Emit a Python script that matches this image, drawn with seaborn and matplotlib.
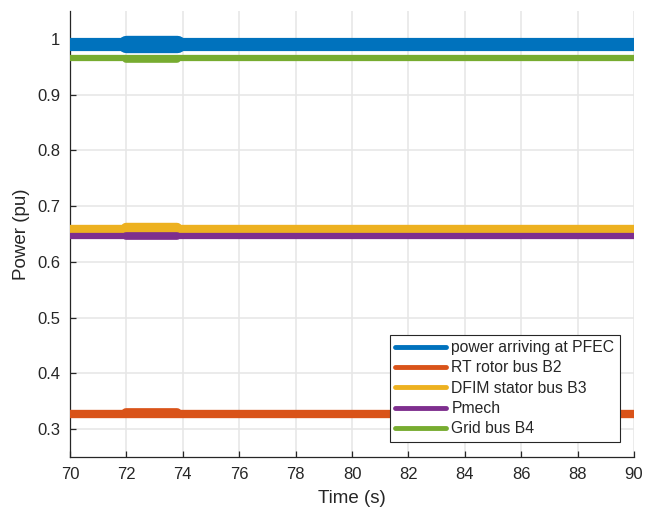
import matplotlib
matplotlib.use("Agg")
import matplotlib.pyplot as plt
import seaborn as sns
import pandas as pd

# Steady power levels of each quantity over the window (pu)
labels = ["power arriving at PFEC", "RT rotor bus B2", "DFIM stator bus B3",
          "Pmech", "Grid bus B4"]
levels = [0.990, 0.328, 0.659, 0.647, 0.965]
# Levels during the short transient around t = 72..74 s
transient_levels = [0.990, 0.329, 0.661, 0.646, 0.964]
time_span = [70.0, 90.0]
transient_span = [72.0, 73.8]

colors = ["#0072BD", "#D95319", "#EDB120", "#7E2F8E", "#77AC30"]
widths = [9.5, 6.0, 6.0, 4.5, 4.5]          # band width of the ripple (pt)
transient_widths = [12.5, 7.0, 7.5, 5.5, 5.5]

sns.set_theme(style="whitegrid")
plt.rcParams["font.family"] = ["Liberation Sans", "DejaVu Sans"]

steady = pd.DataFrame({
    "t": [t for _ in labels for t in time_span],
    "p": [v for v in levels for _ in time_span],
    "signal": [s for s in labels for _ in time_span],
})
trans = pd.DataFrame({
    "t": [t for _ in labels for t in transient_span],
    "p": [v for v in transient_levels for _ in transient_span],
    "signal": [s for s in labels for _ in transient_span],
})

fig = plt.figure(figsize=(6.46, 5.12), dpi=100)
ax = fig.add_axes([0.1084, 0.1074, 0.8730, 0.8711])

for i, name in enumerate(labels):
    sub = steady[steady.signal == name]
    sns.lineplot(data=sub, x="t", y="p", ax=ax, color=colors[i],
                 linewidth=widths[i], solid_capstyle="round", label=name,
                 zorder=3 + i)
    tsub = trans[trans.signal == name]
    sns.lineplot(data=tsub, x="t", y="p", ax=ax, color=colors[i],
                 linewidth=transient_widths[i], solid_capstyle="round",
                 legend=False, zorder=3 + i)

ax.set_xlim(70, 90)
ax.set_ylim(0.25, 1.05)
ax.set_xticks(range(70, 91, 2))
ax.set_yticks([0.3, 0.4, 0.5, 0.6, 0.7, 0.8, 0.9, 1.0])
ax.set_yticklabels(["0.3", "0.4", "0.5", "0.6", "0.7", "0.8", "0.9", "1"])
ax.set_xlabel("Time (s)", fontsize=13.5, color="#262626", labelpad=6)
ax.set_ylabel("Power (pu)", fontsize=13.5, color="#262626", labelpad=5)

ax.grid(True, color="#e6e6e6", linewidth=1.1)
ax.set_facecolor("white")
for side in ("top", "right"):
    ax.spines[side].set_visible(False)
for side in ("left", "bottom"):
    ax.spines[side].set_color("#262626")
    ax.spines[side].set_linewidth(0.9)
ax.tick_params(axis="both", direction="in", length=4, width=0.9,
               colors="#262626", labelsize=12, left=True, bottom=True,
               pad=7)

leg = ax.legend(loc="lower right", bbox_to_anchor=(0.975, 0.034),
                borderaxespad=0, fontsize=11.3, frameon=True, fancybox=False,
                handlelength=3.25, handletextpad=0.32, labelspacing=0.34,
                borderpad=0.35)
leg.get_frame().set_edgecolor("#262626")
leg.get_frame().set_linewidth(0.8)
leg.get_frame().set_alpha(1)
for line in leg.get_lines():
    line.set_linewidth(3.5)
leg.set_zorder(20)

fig.savefig("out.png", dpi=100)
